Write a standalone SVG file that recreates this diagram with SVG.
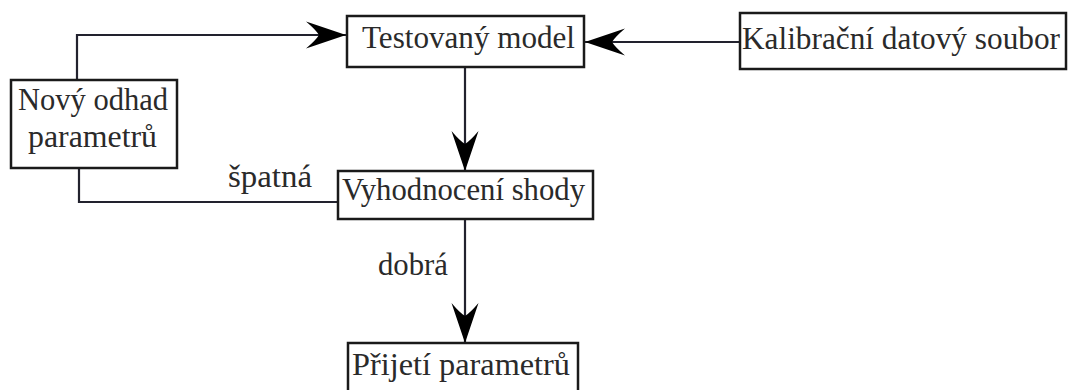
<svg xmlns="http://www.w3.org/2000/svg" width="1068" height="390" viewBox="0 0 1068 390">
  <style>
    .box { fill: #ffffff; stroke: #1a1a1a; stroke-width: 2.5; }
    .lbl { font-family: "Liberation Serif", "Times New Roman", serif; font-size: 31px; fill: #2a2a2a; }
    .edge { fill: none; stroke: #22222e; stroke-width: 2.2; }
  </style>
  <defs>
    <!-- stealth-style arrowhead shared by all directed connectors -->
    <marker id="stealth" viewBox="-42 -15 44 30" refX="0" refY="0" markerWidth="44" markerHeight="30" markerUnits="userSpaceOnUse" orient="auto">
      <path d="M0,0 L-40,-13.5 Q-30,-5 -27,0 Q-30,5 -40,13.5 Z" fill="#000000"/>
    </marker>
  </defs>

  <rect width="1068" height="390" fill="#ffffff"/>

  <g id="connectors">
    <!-- new estimate fed back into the tested model -->
    <polyline class="edge" points="77,80 77,35 346,35" marker-end="url(#stealth)"/>
    <!-- calibration data into the tested model -->
    <line class="edge" x1="740" y1="42" x2="585" y2="42" marker-end="url(#stealth)"/>
    <!-- tested model to evaluation -->
    <line class="edge" x1="465" y1="67" x2="465" y2="171" marker-end="url(#stealth)"/>
    <!-- poor fit: back to new estimate -->
    <polyline class="edge" points="338,202 79,202 79,168"/>
    <text class="lbl" x="228" y="187" textLength="84" lengthAdjust="spacingAndGlyphs">špatná</text>
    <!-- good fit: accept parameters -->
    <line class="edge" x1="465" y1="219" x2="465" y2="343" marker-end="url(#stealth)"/>
    <text class="lbl" x="378" y="275" textLength="70" lengthAdjust="spacingAndGlyphs">dobrá</text>
  </g>

  <g id="testovany-model">
    <rect class="box" x="347" y="16" width="237" height="51"/>
    <text class="lbl" x="362" y="48" textLength="213" lengthAdjust="spacingAndGlyphs">Testovaný model</text>
  </g>

  <g id="kalibracni-soubor">
    <rect class="box" x="740" y="13" width="326" height="56"/>
    <text class="lbl" x="742" y="49" textLength="318" lengthAdjust="spacingAndGlyphs">Kalibrační datový soubor</text>
  </g>

  <g id="novy-odhad">
    <rect class="box" x="11" y="80" width="166" height="88"/>
    <text class="lbl" x="18" y="110" textLength="150" lengthAdjust="spacingAndGlyphs">Nový odhad</text>
    <text class="lbl" x="28" y="147" textLength="129" lengthAdjust="spacingAndGlyphs">parametrů</text>
  </g>

  <g id="vyhodnoceni">
    <rect class="box" x="338" y="171" width="255" height="48"/>
    <text class="lbl" x="342" y="200" textLength="243" lengthAdjust="spacingAndGlyphs">Vyhodnocení shody</text>
  </g>

  <g id="prijeti">
    <rect class="box" x="348" y="343" width="230" height="52"/>
    <text class="lbl" x="352" y="375" textLength="218" lengthAdjust="spacingAndGlyphs">Přijetí parametrů</text>
  </g>
</svg>
